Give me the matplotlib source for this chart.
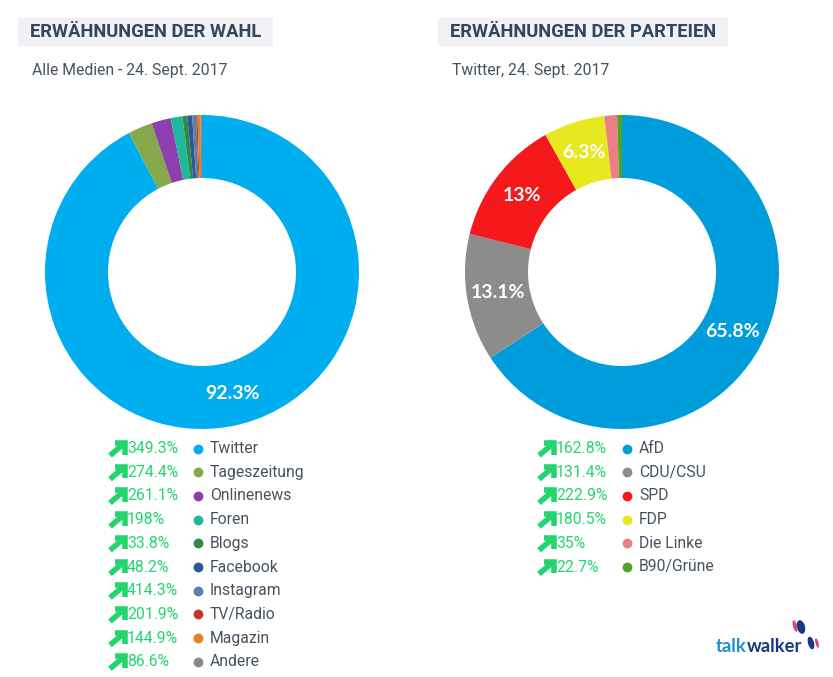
import matplotlib
matplotlib.use("Agg")
import matplotlib.pyplot as plt
from matplotlib.patches import Ellipse, Rectangle

plt.rcParams["font.family"] = ["Roboto", "DejaVu Sans"]

W, H = 833, 677

# left chart
media_labels = ["Twitter", "Tageszeitung", "Onlinenews", "Foren", "Blogs",
                "Facebook", "Instagram", "TV/Radio", "Magazin", "Andere"]
media_values = [92.3, 2.5, 2.0, 1.2, 0.5, 0.5, 0.4, 0.15, 0.3, 0.15]
media_change = ["349.3%", "274.4%", "261.1%", "198%", "33.8%",
                "48.2%", "414.3%", "201.9%", "144.9%", "86.6%"]
media_colors = ["#00aeef", "#86a84a", "#8e3fae", "#1fb89a", "#2e8b45",
                "#2f5597", "#5b7fa6", "#c0392b", "#e67e22", "#888888"]

# right chart
party_labels = ["AfD", "CDU/CSU", "SPD", "FDP", "Die Linke", "B90/Grüne"]
party_values = [65.8, 13.1, 13.0, 6.3, 1.3, 0.5]
party_change = ["162.8%", "131.4%", "222.9%", "180.5%", "35%", "22.7%"]
party_colors = ["#009ddc", "#8c8c8c", "#f5191c", "#e8e81e", "#ea7f86", "#4da528"]

TITLE = "#34465c"
TEXT = "#46535f"
GREEN = "#22d66f"


def donut(cx, cy, values, colors, shown):
    r = 157
    ax = fig.add_axes([(cx - r) / W, 1 - (cy + r) / H, 2 * r / W, 2 * r / H])
    ax.pie(values, colors=colors, startangle=90, counterclock=False, radius=1,
           wedgeprops={"width": 63 / r, "linewidth": 0},
           autopct=lambda p: f"{p:g}%" if round(p, 1) in shown else "",
           pctdistance=0.8,
           textprops={"color": "white", "fontsize": 14, "fontweight": "bold",
                      "family": ["Lato", "Roboto"]})
    ax.set_xlim(-1, 1)
    ax.set_ylim(-1, 1)
    ax.axis("off")


def legend(x, labels, colors, changes):
    for i, (name, color, change) in enumerate(zip(labels, colors, changes)):
        y = 448.5 + i * 23.7
        # arrow icon
        over.plot([x + 3, x + 17], [y + 7, y - 5], color=GREEN, lw=4, solid_capstyle="butt")
        over.plot([x + 8, x + 18, x + 18], [y - 5.5, y - 5.5, y + 6], color=GREEN, lw=4,
                  solid_joinstyle="miter", solid_capstyle="butt")
        over.text(x + 20, y, change, color=GREEN, fontsize=11.3, va="center")
        over.scatter([x + 91], [y], s=50, color=color, linewidths=0)
        over.text(x + 103, y, name, color=TEXT, fontsize=11.3, va="center")


def header(x, w, title, sub):
    over.add_patch(Rectangle((x, 18), w, 28, color="#f1f2f5", lw=0))
    over.text(x + 12, 32, title, color=TITLE, fontsize=13.2, fontweight="bold", va="center")
    over.text(x + 14, 70, sub, color=TEXT, fontsize=11.3, va="center")


fig = plt.figure(figsize=(W / 100, H / 100), dpi=100, facecolor="white")

over = fig.add_axes([0, 0, 1, 1])
over.set_xlim(0, W)
over.set_ylim(H, 0)
over.axis("off")

header(18, 255, "ERWÄHNUNGEN DER WAHL", "Alle Medien - 24. Sept. 2017")
header(438, 290, "ERWÄHNUNGEN DER PARTEIEN", "Twitter, 24. Sept. 2017")

donut(202, 272, media_values, media_colors, [92.3])
donut(622, 272, party_values, party_colors, [65.8, 13.1, 13.0, 6.3])

legend(107, media_labels, media_colors, media_change)
legend(536, party_labels, party_colors, party_change)

# logo
talk = over.text(716, 646, "talk", color="#1f8fd6", fontsize=13.2, fontweight="bold",
                 va="center", ha="left", family=["Lato", "Roboto"])
over.annotate("walker", xy=(1, 0.5), xycoords=talk, xytext=(0, 0), textcoords="offset points",
              color="#17397f", fontsize=13.2, fontweight="bold", va="center", ha="left",
              family=["Lato", "Roboto"])
over.add_patch(Ellipse((801, 627), 8, 14, angle=-15, color="#17397f", lw=0))
over.add_patch(Ellipse((795, 626), 4, 12, angle=-15, color="#e0457b", lw=0))
over.add_patch(Ellipse((811, 643), 6, 13, angle=-15, color="#17397f", lw=0))
over.add_patch(Ellipse((817, 643), 3, 10, angle=-15, color="#e0457b", lw=0))

fig.savefig("out.png", dpi=100)
